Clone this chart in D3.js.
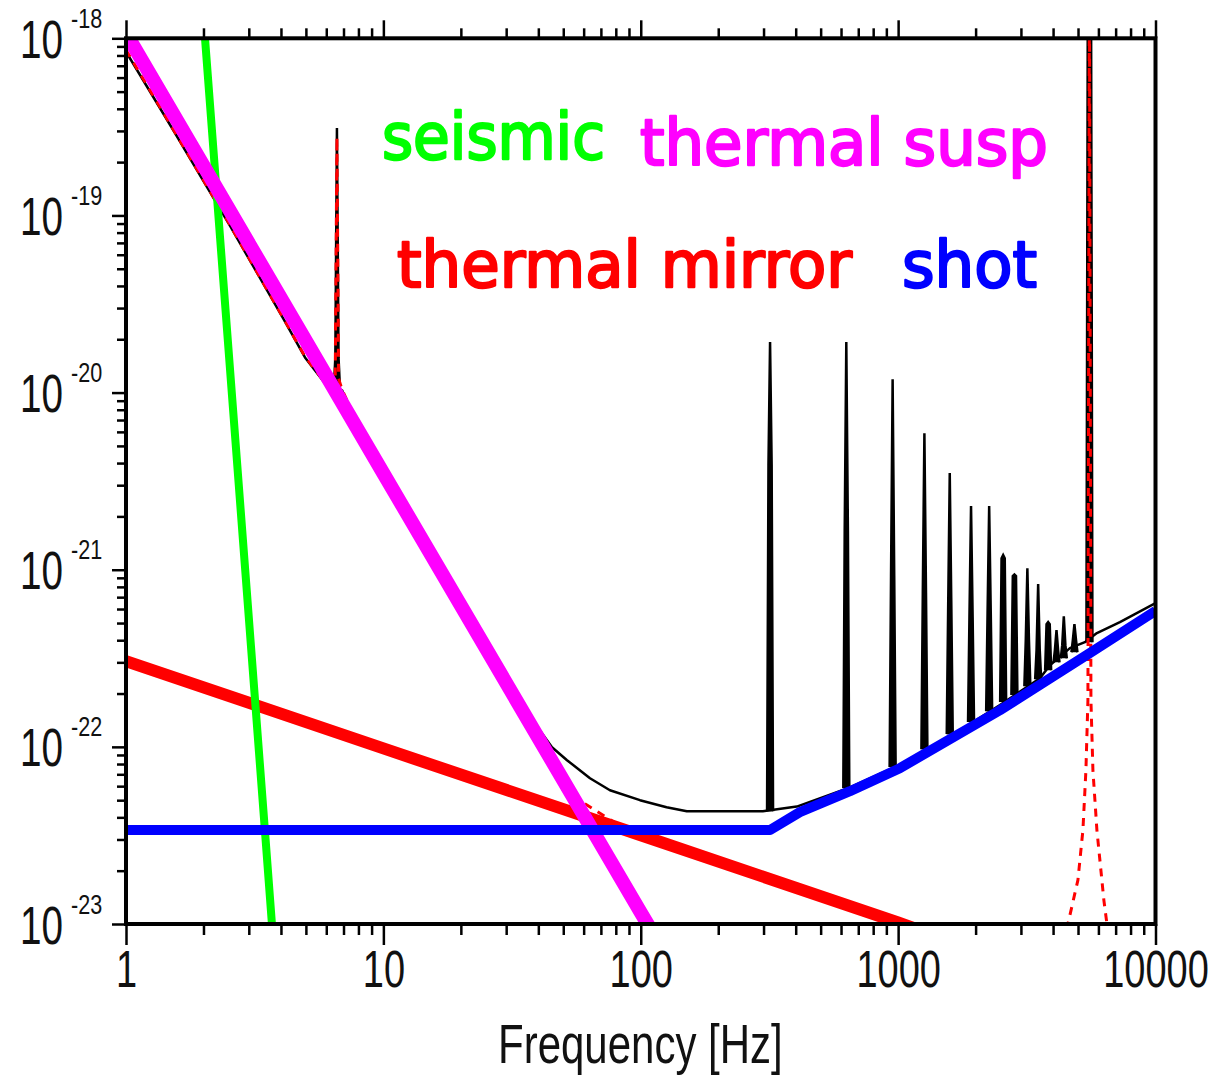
<!DOCTYPE html>
<html>
<head>
<meta charset="utf-8">
<script src="https://cdn.jsdelivr.net/npm/d3@7"></script>
<style>
  html, body { margin: 0; padding: 0; background: #fff; }
  svg { display: block; }
</style>
</head>
<body>
<svg id="chart" width="1226" height="1077"></svg>
<script>
// ---- axis ticks ----
const xMajorTicks = [1, 10, 100, 1000, 10000];
const xTickLabels = ["1", "10", "100", "1000", "10000"];
const yMajorTicks = [1e-18, 1e-19, 1e-20, 1e-21, 1e-22, 1e-23];
const yTickExponents = ["-18", "-19", "-20", "-21", "-22", "-23"];

// ---- noise curves: [frequency Hz, strain amplitude] ----
const seismic = [[2.0, 1.3e-18], [2.5, 1.78e-20], [3.0, 5.37e-22], [3.5, 2.78e-23], [4.0, 2.1e-24]];
const thermalSusp = [[1, 1.07e-18], [10, 3.5e-21], [100, 1.16e-23], [110, 9.2e-24]];
const thermalMirror = [[1, 3.05e-22], [10, 9.8e-23], [100, 3.17e-23], [1000, 1.02e-23], [1300, 8.9e-24]];
const shot = [[1, 3.39e-23], [318, 3.39e-23], [415, 4.28e-23], [650, 5.62e-23], [1016, 7.58e-23],
              [2486, 1.61e-22], [5562, 3.39e-22], [10000, 5.85e-22]];

// thermal noise including the pendulum and mirror resonances
const thermalTotal = [[1, 8.6e-19], [1.55, 2.95e-19], [2.54, 8.8e-20], [4.07, 2.66e-20], [4.96, 1.6e-20],
  [6.04, 1.1e-20], [6.5, 1.2e-20], [6.6, 2.77e-19], [6.7, 1.2e-20], [6.91, 1.04e-20], [10, 3.15e-21],
  [16.6, 9.1e-22], [28.4, 2.5e-22], [50, 5.7e-23], [80, 3.7e-23], [300, 1.85e-23], [1000, 1.02e-23],
  [3000, 5.9e-24], [4300, 8e-24], [4567, 1e-23], [4995, 1.77e-23], [5224, 3.39e-23], [5366, 7.38e-23],
  [5463, 1.83e-22], [5537, 2e-18], [5612, 1.83e-22], [5713, 7.38e-23], [5920, 3.39e-23], [6027, 2.61e-23],
  [6302, 1.36e-23], [6476, 1e-23], [7000, 7e-24], [10000, 4.5e-24]];

// total sensitivity, smooth part
const totalBase = [[1, 8.4e-19], [1.55, 2.92e-19], [2.54, 8.7e-20], [4.07, 2.64e-20], [4.96, 1.58e-20],
  [6.04, 1.09e-20], [6.31, 1.09e-20], [6.91, 1.03e-20], [10, 3.13e-21], [16.6, 9.08e-22], [28.4, 2.54e-22],
  [45.2, 9.95e-23], [51.7, 8.41e-23], [63.5, 6.65e-23], [75.9, 5.69e-23], [99.3, 5.0e-23], [126, 4.56e-23],
  [151, 4.33e-23], [298, 4.33e-23], [404, 4.6e-23], [650, 5.9e-23], [1016, 7.9e-23], [1589, 1.14e-22],
  [2486, 1.72e-22], [3556, 2.44e-22], [3888, 2.89e-22], [4650, 3.61e-22], [5318, 3.9e-22], [5920, 4.39e-22],
  [7273, 5.06e-22], [10000, 6.47e-22]];

// total sensitivity, resonance lines: frequency, base, shoulder and top amplitude
const peakFreq     = [6.6,     318,     629,     952,     1265,    1587,    1920,    2258,    2559,    2830,    3178,    3500,    3827,    4124,    4403,    4842,    5537];
const peakBase     = [1.07e-20, 4.33e-23, 5.85e-23, 7.69e-23, 9.7e-23, 1.18e-22, 1.38e-22, 1.59e-22, 1.79e-22, 1.96e-22, 2.2e-22, 2.41e-22, 2.71e-22, 3.0e-22, 3.16e-22, 3.42e-22, 3.9e-22];
const peakShoulder = [1.58e-20, 3.9e-21, 1.67e-21, 9.2e-22, 7.38e-22, 6.07e-22, 5.4e-22, 5.69e-22, 1.16e-21, 9.2e-22, 4.0e-22, 3.52e-22, 4.93e-22, 3.52e-22, 3.75e-22, 4.0e-22, 2e-18];
const peakTop      = [3.12e-19, 1.93e-20, 1.93e-20, 1.19e-20, 5.9e-21, 3.51e-21, 2.29e-21, 2.29e-21, 1.21e-21, 9.4e-22, 1.02e-21, 8.3e-22, 5.06e-22, 4.56e-22, 5.46e-22, 4.93e-22, 2e-18];

// ---- curve labels ----
const labelTexts = ["seismic", "thermal susp", "thermal mirror", "shot"];
const labelColors = ["#00ff00", "#ff00ff", "#ff0000", "#0000ff"];

// ---- layout ----
const svg = d3.select("#chart");
const plot = { left: 126, right: 1155.5, top: 38.3, bottom: 924 };
const x = d3.scaleLog().domain([1, 10000]).range([plot.left, plot.right]);
const y = d3.scaleLog().domain([1e-23, 1e-18]).range([plot.bottom, plot.top]);
const tickFont = "'Liberation Sans', Arial, sans-serif";

svg.append("defs").append("clipPath").attr("id", "plot-clip")
  .append("rect")
  .attr("x", plot.left).attr("y", plot.top)
  .attr("width", plot.right - plot.left).attr("height", plot.bottom - plot.top);

const line = d3.line().x(d => x(d[0])).y(d => y(d[1]));
const area = svg.append("g").attr("clip-path", "url(#plot-clip)");

function curve(data, color, width, dash) {
  const p = area.append("path").datum(data)
    .attr("d", line)
    .attr("fill", "none")
    .attr("stroke", color)
    .attr("stroke-width", width)
    .attr("stroke-linejoin", "round");
  if (dash) p.attr("stroke-dasharray", dash);
  return p;
}

// total sensitivity (thin black)
curve(totalBase, "#000", 2.5);
const peaks = peakFreq.map((f, i) => ({ f, base: peakBase[i], shoulder: peakShoulder[i], top: peakTop[i] }));
area.selectAll("path.peak").data(peaks).join("path")
  .attr("class", "peak")
  .attr("d", p => {
    const cx = x(p.f);
    return d3.line()([[cx - 3, y(p.base)], [cx - 1.6, y(p.shoulder)], [cx, y(p.top)],
                      [cx + 1.6, y(p.shoulder)], [cx + 3, y(p.base)]]);
  })
  .attr("fill", "#000")
  .attr("stroke", "#000")
  .attr("stroke-width", 2.5)
  .attr("stroke-linejoin", "miter");

// thermal noise with resonances (thin red dashed)
curve(thermalTotal, "#ff0000", 3, "8,7");

// individual noise contributions
curve(thermalMirror, "#ff0000", 12);
curve(seismic, "#00ff00", 8);
curve(thermalSusp, "#ff00ff", 14);
curve(shot, "#0000ff", 10);

// ---- axes ----
const xMinor = [];
[1, 10, 100, 1000].forEach(d => { for (let k = 2; k <= 9; k++) xMinor.push(k * d); });
const yMinor = [];
[1e-23, 1e-22, 1e-21, 1e-20, 1e-19].forEach(d => { for (let k = 2; k <= 9; k++) yMinor.push(k * d); });

function styleAxis(sel) {
  sel.select(".domain").remove();
  sel.selectAll(".tick line").attr("stroke", "#000").attr("stroke-width", 2.5);
}

svg.append("g").attr("transform", `translate(0,${plot.bottom})`)
  .call(d3.axisBottom(x).tickValues(xMinor).tickSize(11).tickFormat("")).call(styleAxis);
const xAxisMajor = svg.append("g").attr("transform", `translate(0,${plot.bottom})`)
  .call(d3.axisBottom(x).tickValues(xMajorTicks).tickSize(21).tickFormat((d, i) => xTickLabels[i]))
  .call(styleAxis);
xAxisMajor.selectAll(".tick text")
  .attr("y", null).attr("dy", null)
  .attr("transform", "translate(0,63) scale(0.73,1)")
  .attr("fill", "#111")
  .style("font-family", tickFont)
  .style("font-size", "52px");

svg.append("g").attr("transform", `translate(0,${plot.top})`)
  .call(d3.axisTop(x).tickValues(xMinor).tickSize(10).tickFormat("")).call(styleAxis);
svg.append("g").attr("transform", `translate(0,${plot.top})`)
  .call(d3.axisTop(x).tickValues(xMajorTicks).tickSize(18).tickFormat("")).call(styleAxis);

svg.append("g").attr("transform", `translate(${plot.left},0)`)
  .call(d3.axisLeft(y).tickValues(yMinor).tickSize(9).tickFormat("")).call(styleAxis);
const yAxisMajor = svg.append("g").attr("transform", `translate(${plot.left},0)`)
  .call(d3.axisLeft(y).tickValues(yMajorTicks).tickSize(14).tickFormat(""))
  .call(styleAxis);

// power-of-ten labels: "10" with a raised exponent
yAxisMajor.selectAll(".tick").each(function (d, i) {
  const t = d3.select(this);
  t.append("text")
    .attr("transform", "translate(-63,19) scale(0.73,1)")
    .attr("text-anchor", "end")
    .attr("fill", "#111")
    .style("font-family", tickFont)
    .style("font-size", "53px")
    .text("10");
  t.append("text")
    .attr("transform", "translate(-55,-11) scale(0.8,1)")
    .attr("text-anchor", "start")
    .attr("fill", "#111")
    .style("font-family", tickFont)
    .style("font-size", "27px")
    .text(yTickExponents[i]);
});

// plot frame
svg.append("rect")
  .attr("x", plot.left).attr("y", plot.top)
  .attr("width", plot.right - plot.left).attr("height", plot.bottom - plot.top)
  .attr("fill", "none").attr("stroke", "#000").attr("stroke-width", 4);

// axis title
svg.append("text")
  .attr("transform", "translate(498,1063) scale(0.75,1)")
  .attr("fill", "#111")
  .style("font-family", tickFont)
  .style("font-size", "56px")
  .text("Frequency [Hz]");

// curve labels
const labelPos = [[382, 159, 223], [640, 165, 408], [397, 287, 455], [902, 287, 135]];
svg.append("g").selectAll("text").data(labelTexts).join("text")
  .attr("x", (d, i) => labelPos[i][0])
  .attr("y", (d, i) => labelPos[i][1])
  .attr("textLength", (d, i) => labelPos[i][2])
  .attr("lengthAdjust", "spacingAndGlyphs")
  .attr("fill", (d, i) => labelColors[i])
  .attr("stroke", (d, i) => labelColors[i])
  .attr("stroke-width", 2.4)
  .attr("stroke-linejoin", "round")
  .style("font-family", "'DejaVu Sans', Verdana, sans-serif")
  .style("font-size", "64px")
  .text(d => d);
</script>
</body>
</html>
